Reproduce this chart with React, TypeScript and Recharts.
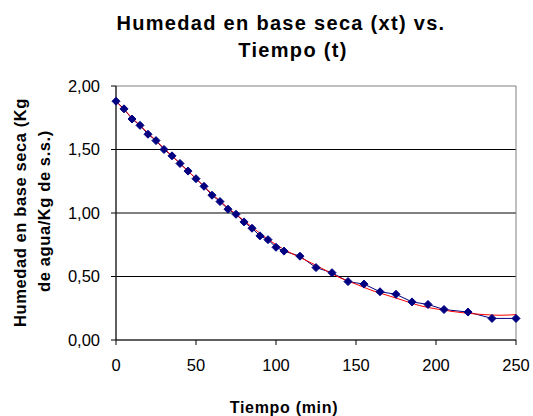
import { LineChart, Line, XAxis, YAxis, CartesianGrid, ReferenceArea } from "recharts";

// measured points (t in min, x in kg agua / kg s.s.)
const tiempo = [0, 5, 10, 15, 20, 25, 30, 35, 40, 45, 50, 55, 60, 65, 70, 75, 80, 85, 90, 95, 100, 105, 115, 125, 135, 145, 155, 165, 175, 185, 195, 205, 220, 235, 250];
const humedad = [1.88, 1.82, 1.74, 1.69, 1.62, 1.57, 1.5, 1.45, 1.39, 1.33, 1.27, 1.21, 1.14, 1.09, 1.03, 0.99, 0.93, 0.88, 0.82, 0.79, 0.73, 0.7, 0.66, 0.57, 0.53, 0.46, 0.44, 0.38, 0.36, 0.3, 0.28, 0.24, 0.22, 0.17, 0.17];

// trend line
const tendenciaT = [0, 10, 20, 30, 40, 50, 60, 70, 80, 90, 100, 110, 120, 130, 140, 150, 160, 170, 180, 190, 200, 210, 220, 230, 240, 250];
const tendenciaX = [1.88, 1.75, 1.63, 1.51, 1.39, 1.27, 1.15, 1.04, 0.94, 0.84, 0.75, 0.68, 0.62, 0.555, 0.49, 0.44, 0.39, 0.35, 0.31, 0.27, 0.245, 0.225, 0.21, 0.2, 0.195, 0.2];

const xTicks = [0, 50, 100, 150, 200, 250];
const yTicks = [0, 0.5, 1, 1.5, 2];

const medidos = tiempo.map((t, i) => ({ t, x: humedad[i] }));
const tendencia = tendenciaT.map((t, i) => ({ t, x: tendenciaX[i] }));

const font = "'Liberation Sans', Arial, sans-serif";

const Diamond = (props: any) => {
  const { cx, cy } = props;
  if (cx == null || cy == null) return null;
  const r = 4;
  return (
    <polygon
      points={`${cx},${cy - r} ${cx + r},${cy} ${cx},${cy + r} ${cx - r},${cy}`}
      fill="#000080"
      stroke="#000080"
    />
  );
};

export default function App() {
  return (
    <div style={{ position: "absolute", left: 0, top: 0, width: 533, height: 416, background: "#fff", fontFamily: font }}>
      <LineChart width={533} height={416} margin={{ top: 86, right: 17, bottom: 46, left: 0 }}>
        <ReferenceArea x1={0} x2={250} y1={0} y2={2} stroke="#808080" fill="none" ifOverflow="extendDomain" />
        <CartesianGrid horizontal vertical={false} horizontalValues={[0.5, 1, 1.5]} stroke="#000" />
        <XAxis
          dataKey="t"
          type="number"
          domain={[0, 250]}
          ticks={xTicks}
          allowDuplicatedCategory={false}
          height={30}
          stroke="#000"
          tickSize={5}
          tickMargin={14}
          tick={{ fill: "#000", fontSize: 16.5, fontFamily: font }}
        />
        <YAxis
          type="number"
          domain={[0, 2]}
          ticks={yTicks}
          width={116}
          stroke="#000"
          tickSize={5}
          tickMargin={11}
          tickFormatter={(v: number) => v.toFixed(2).replace(".", ",")}
          tick={{ fill: "#000", fontSize: 16.5, fontFamily: font }}
        />
        <Line
          data={medidos}
          dataKey="x"
          type="linear"
          stroke="#000080"
          strokeWidth={1}
          dot={<Diamond />}
          activeDot={false}
          isAnimationActive={false}
        />
        <Line
          data={tendencia}
          dataKey="x"
          type="monotone"
          stroke="#ff0000"
          strokeWidth={1}
          dot={false}
          activeDot={false}
          isAnimationActive={false}
        />
      </LineChart>
      <svg
        width={533}
        height={416}
        style={{ position: "absolute", left: 0, top: 0, pointerEvents: "none" }}
        fontFamily={font}
        fontWeight="bold"
        fill="#000"
      >
        <text x={281} y={30} textAnchor="middle" fontSize={20} letterSpacing={1.3}>
          Humedad en base seca (xt) vs.
        </text>
        <text x={293} y={57} textAnchor="middle" fontSize={20} letterSpacing={1.3}>
          Tiempo (t)
        </text>
        <text transform="translate(26,212.5) rotate(-90)" textAnchor="middle" fontSize={16.5} letterSpacing={0.6}>
          Humedad en base seca (Kg
        </text>
        <text transform="translate(50,211) rotate(-90)" textAnchor="middle" fontSize={16.5} letterSpacing={0.6}>
          de agua/Kg de s.s.)
        </text>
        <text x={284} y={413} textAnchor="middle" fontSize={16} letterSpacing={0.7}>
          Tiempo (min)
        </text>
      </svg>
    </div>
  );
}
